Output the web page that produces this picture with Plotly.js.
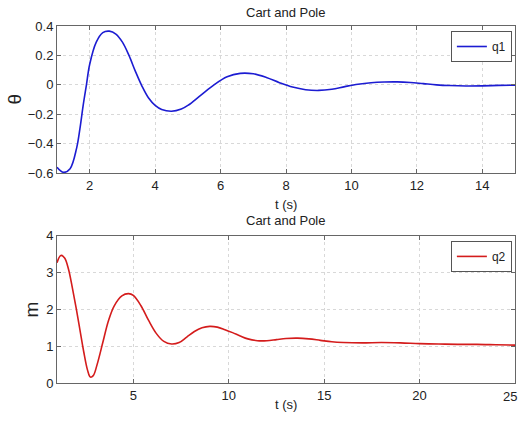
<!DOCTYPE html>
<html>
<head>
<meta charset="utf-8">
<script src="https://cdn.plot.ly/plotly-3.0.1.min.js"></script>
<style>html,body{margin:0;padding:0;background:#fff;}#chart{width:520px;height:427px;}</style>
</head>
<body>
<div id="chart"></div>
<script>
// q1: pole angle theta
const t1 = [1.0,1.2,1.4,1.6,1.7,1.8,1.9,2.0,2.2,2.4,2.6,2.8,3.0,3.2,3.4,3.6,3.8,4.0,4.2,4.5,4.8,5.0,5.4,5.8,6.2,6.6,7.0,7.4,7.8,8.2,8.6,9.0,9.4,9.8,10.2,10.6,11.0,11.4,11.8,12.2,12.6,13.0,13.5,14.0,14.5,15.0];
const q1 = [-0.56,-0.595,-0.57,-0.43,-0.3,-0.14,0.0,0.14,0.29,0.355,0.365,0.345,0.29,0.2,0.09,-0.01,-0.09,-0.14,-0.168,-0.18,-0.165,-0.14,-0.07,0.0,0.055,0.078,0.075,0.05,0.015,-0.015,-0.033,-0.038,-0.03,-0.012,0.004,0.014,0.019,0.02,0.016,0.008,0.0,-0.005,-0.008,-0.007,-0.004,-0.002];
// q2: cart position m
const t2 = [1.0,1.2,1.4,1.6,1.8,2.0,2.2,2.4,2.6,2.75,2.9,3.1,3.4,3.7,4.0,4.4,4.75,5.0,5.4,5.8,6.2,6.6,7.0,7.4,7.8,8.2,8.6,9.0,9.4,9.8,10.2,10.6,11.0,11.5,12.0,12.5,13.0,13.6,14.2,14.8,15.4,16.0,17.0,18.0,19.0,20.0,21.0,22.0,23.0,24.0,25.0];
const q2 = [3.27,3.47,3.4,3.1,2.6,2.05,1.45,0.85,0.35,0.16,0.2,0.5,1.1,1.7,2.1,2.37,2.43,2.38,2.1,1.7,1.35,1.13,1.06,1.1,1.25,1.4,1.5,1.54,1.52,1.45,1.37,1.28,1.2,1.15,1.15,1.18,1.21,1.22,1.2,1.16,1.12,1.1,1.09,1.1,1.09,1.07,1.06,1.05,1.05,1.04,1.03];
const title = "Cart and Pole";
const xLabel = "t (s)";
const y1Label = "θ";
const y2Label = "m";
const x1Ticks = [2,4,6,8,10,12,14];
const y1Ticks = [-0.6,-0.4,-0.2,0,0.2,0.4];
const x2Ticks = [5,10,15,20];
const x2EdgeTick = 25;
const y2Ticks = [0,1,2,3,4];

const font = {family: "Liberation Sans, Arial, sans-serif", size: 13, color: "#222"};
const axBase = {
  showline: true, linecolor: "#666", linewidth: 1, mirror: "ticks",
  ticks: "inside", ticklen: 4, tickcolor: "#666",
  showgrid: true, gridcolor: "#d8d8d8", griddash: "dot", gridwidth: 1,
  zeroline: false, tickfont: {size: 13, color: "#222"}
};

const traces = [
  {x: t1, y: q1, name: "q1", type: "scatter", mode: "lines", line: {color: "#1c1cd2", width: 1.6, shape: "spline"}, xaxis: "x", yaxis: "y", legend: "legend"},
  {x: t2, y: q2, name: "q2", type: "scatter", mode: "lines", line: {color: "#d41c1c", width: 1.6, shape: "spline"}, xaxis: "x2", yaxis: "y2", legend: "legend2"}
];

function ann(text, x, y, xs, ys, size, angle) {
  return {text: text, xref: "paper", yref: "paper", x: x, y: y, xshift: xs, yshift: ys,
    xanchor: "center", yanchor: "middle", showarrow: false, textangle: angle || 0, font: {size: size}};
}

const layout = {
  width: 520, height: 427,
  margin: {l: 57, r: 5, t: 26, b: 44},
  paper_bgcolor: "#fff", plot_bgcolor: "#fff",
  font: font,
  showlegend: true,
  xaxis: Object.assign({}, axBase, {domain: [0,1], range: [1,15], tickvals: x1Ticks, anchor: "y"}),
  yaxis: Object.assign({}, axBase, {domain: [0.588,1], range: [-0.6,0.4], tickvals: y1Ticks, anchor: "x"}),
  xaxis2: Object.assign({}, axBase, {domain: [0,1], range: [1,25], tickvals: x2Ticks, anchor: "y2"}),
  yaxis2: Object.assign({}, axBase, {domain: [0,0.412], range: [0,4], tickvals: y2Ticks, anchor: "x2"}),
  legend: {x: 0.86, y: 0.986, xanchor: "left", yanchor: "top", bgcolor: "#fff", bordercolor: "#555", borderwidth: 1, font: {size: 12}, itemwidth: 30, tracegroupgap: 0},
  legend2: {x: 0.86, y: 0.398, xanchor: "left", yanchor: "top", bgcolor: "#fff", bordercolor: "#555", borderwidth: 1, font: {size: 12}, itemwidth: 30, tracegroupgap: 0},
  annotations: [
    ann(title, 0.5, 1, 0, 14, 13),
    ann(title, 0.5, 0.412, 0, 15, 13),
    ann(xLabel, 0.5, 0.588, 0, -31, 13),
    ann(xLabel, 0.5, 0, 0, -21, 13),
    ann(y1Label, 0, 0.794, -42, 0, 19, -90),
    ann(y2Label, 0, 0.206, -26, 0, 19, -90),
    {text: String(x2EdgeTick), xref: "x2", yref: "paper", x: x2EdgeTick, y: 0, xshift: 4, yshift: -13, xanchor: "right", yanchor: "middle", showarrow: false, font: {size: 13}}
  ]
};

Plotly.newPlot("chart", traces, layout, {displayModeBar: false, staticPlot: true});
</script>
</body>
</html>
